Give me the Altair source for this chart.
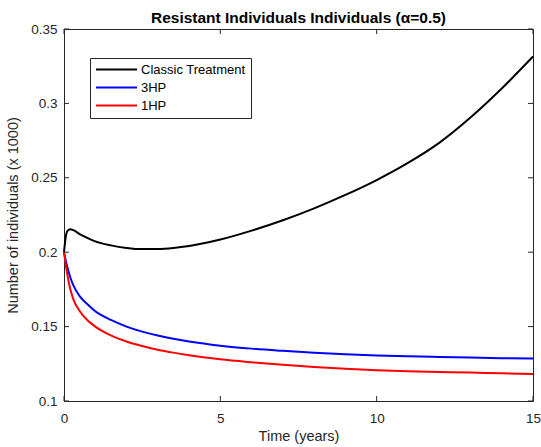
import altair as alt
import pandas as pd

# ---- data ----
t = [0, 0.05, 0.1, 0.2, 0.3, 0.5, 0.75, 1.0, 1.5, 2.0, 2.5, 3.0, 3.5, 4.0,
     5.0, 6.0, 7.0, 8.0, 9.0, 10.0, 11.0, 12.0, 13.0, 14.0, 15.0]
classic = [0.2000, 0.2095, 0.2140, 0.2155, 0.2148, 0.2122, 0.2096, 0.2073,
           0.2046, 0.2029, 0.2021, 0.2022, 0.2029, 0.2042, 0.2085, 0.2145,
           0.2215, 0.2295, 0.2385, 0.2485, 0.2600, 0.2735, 0.2905, 0.3100,
           0.3315]
hp3 = [0.2000, 0.1950, 0.1905, 0.1832, 0.1777, 0.1705, 0.1650, 0.1603,
       0.1545, 0.1500, 0.1466, 0.1440, 0.1418, 0.1400, 0.1372, 0.1352,
       0.1337, 0.1324, 0.1314, 0.1306, 0.1300, 0.1296, 0.1292, 0.1288,
       0.1285]
hp1 = [0.2000, 0.1925, 0.1858, 0.1752, 0.1683, 0.1605, 0.1543, 0.1500,
       0.1441, 0.1400, 0.1370, 0.1345, 0.1325, 0.1308, 0.1280, 0.1260,
       0.1243, 0.1228, 0.1216, 0.1207, 0.1200, 0.1195, 0.1191, 0.1186,
       0.1182]

series_names = ["Classic Treatment", "3HP", "1HP"]
series_colors = ["#000000", "#0000ff", "#ff0000"]
x_ticks = [0, 5, 10, 15]
y_ticks = [0.1, 0.15, 0.2, 0.25, 0.3, 0.35]

W, H = 469, 372
FONT = "Liberation Sans"
AX = "#262626"

color = alt.Color(
    "series:N",
    scale=alt.Scale(domain=series_names, range=series_colors),
    legend=alt.Legend(
        orient="none", legendX=26, legendY=29, title=None,
        symbolType="stroke", symbolSize=1681, symbolStrokeWidth=2,
        clipHeight=13, labelFontSize=13, labelFont=FONT, labelColor="#000000",
        padding=5, rowPadding=4, labelOffset=3,
        strokeColor=AX, fillColor="white",
    ),
)

x = alt.X(
    "t:Q",
    scale=alt.Scale(domain=[0, 15], nice=False),
    axis=alt.Axis(values=x_ticks, title="Time (years)", labelFlush=False,
                  labelPadding=10, titlePadding=5),
)
y = alt.Y(
    "v:Q",
    scale=alt.Scale(domain=[0.1, 0.35], nice=False, zero=False),
    axis=alt.Axis(values=y_ticks, format="~g",
                  title="Number of individuals (x 1000)",
                  labelPadding=7, titlePadding=10),
)


def frame(name, vals):
    return pd.DataFrame({"t": t, "v": vals, "series": name})


layers = []
for name, vals in zip(series_names, [classic, hp3, hp1]):
    layers.append(
        alt.Chart(frame(name, vals))
        .mark_line(strokeWidth=2, interpolate="monotone")
        .encode(x=x, y=y, color=color)
    )

# inward tick marks on all four sides (MATLAB style box)
xt = pd.DataFrame({"t": x_ticks})
yt = pd.DataFrame({"v": y_ticks})
rs = dict(color=AX, strokeWidth=1)
layers += [
    alt.Chart(xt).mark_rule(**rs).encode(x=x, y=alt.value(H), y2=alt.value(H - 5)),
    alt.Chart(xt).mark_rule(**rs).encode(x=x, y=alt.value(0), y2=alt.value(5)),
    alt.Chart(yt).mark_rule(**rs).encode(y=y, x=alt.value(0), x2=alt.value(5)),
    alt.Chart(yt).mark_rule(**rs).encode(y=y, x=alt.value(W), x2=alt.value(W - 5)),
]

chart = (
    alt.layer(*layers)
    .properties(
        width=W, height=H,
        title=alt.TitleParams(
            "Resistant Individuals Individuals (α=0.5)",
            font=FONT, fontSize=15.5, fontWeight="bold", color="#000000",
            anchor="middle", offset=4, baseline="alphabetic", dy=20,
        ),
        autosize=alt.AutoSizeParams(type="none"),
        padding={"left": 64, "top": 29, "right": 8, "bottom": 46},
        background="white",
    )
    .configure_view(stroke=AX, strokeWidth=1)
    .configure_axis(
        grid=False, ticks=False, tickSize=0, domainColor=AX, domainWidth=1,
        labelFont=FONT, labelFontSize=13.5, labelColor=AX,
        titleFont=FONT, titleFontSize=14.5, titleColor=AX, titleFontWeight="normal",
    )
)

chart.save("out.html", embed_options={"renderer": "svg", "actions": False})
